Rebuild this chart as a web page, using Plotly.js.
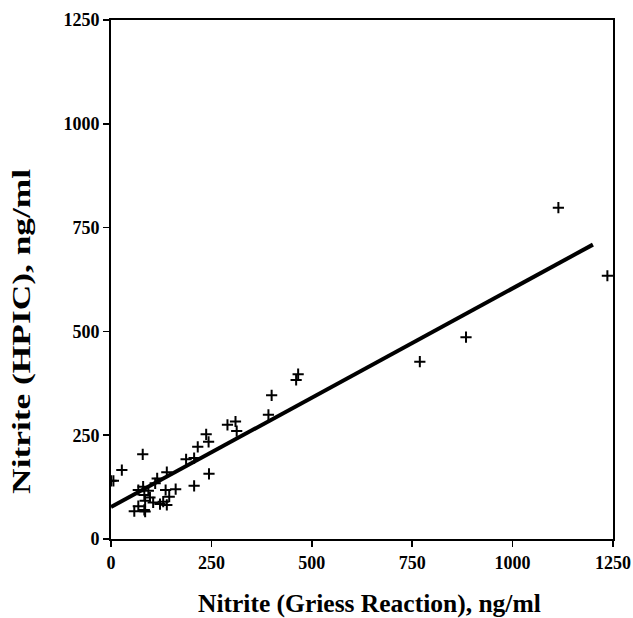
<!DOCTYPE html>
<html>
<head>
<meta charset="utf-8">
<script src="https://cdn.plot.ly/plotly-3.0.1.min.js"></script>
<style>html,body{margin:0;padding:0;background:#fff;}#chart{width:633px;height:618px;}</style>
</head>
<body>
<div id="chart"></div>
<script>
// Griess reaction (x) vs HPIC (y) nitrite, ng/ml
const griess = [466, 461, 400, 392, 290, 310, 313, 237, 243, 216, 187, 207, 244, 207,
  79, 27, 0, 6, 139, 115, 110, 80, 68, 93, 136, 161, 145, 83, 97, 85, 105, 130, 122, 139,
  68, 58, 83, 85, 769, 884, 1114, 1236];
const hpic = [397, 383, 346, 299, 275, 283, 260, 252, 234, 222, 192, 195, 157, 128,
  204, 166, 140, 140, 161, 146, 134, 126, 118, 116, 118, 120, 102, 106, 100, 92, 88, 90, 84, 82,
  79, 67, 70, 66, 427, 486, 798, 634];
const fitX = [0, 1200];
const fitY = [77, 709];
const xTicks = [0, 250, 500, 750, 1000, 1250];
const yTicks = [0, 250, 500, 750, 1000, 1250];
const xTitle = 'Nitrite (Griess Reaction), ng/ml';
const yTitle = 'Nitrite (HPIC), ng/ml';

const font = {family: 'Liberation Serif, Times New Roman, serif', color: '#000'};

Plotly.newPlot('chart', [
  {x: fitX, y: fitY, mode: 'lines', line: {color: '#000', width: 4}, hoverinfo: 'skip'},
  {x: griess, y: hpic, mode: 'markers',
   marker: {symbol: 'cross-thin', size: 8, color: '#000', line: {color: '#000', width: 2}}}
], {
  width: 633, height: 618,
  margin: {l: 111, r: 20, t: 20, b: 79},
  showlegend: false,
  paper_bgcolor: '#fff', plot_bgcolor: '#fff',
  font: Object.assign({size: 18}, font),
  xaxis: {
    range: [0, 1250], tickvals: xTicks, ticktext: xTicks.map(v => '<b>' + v + '</b>'),
    showgrid: false, zeroline: false, showline: true, linecolor: '#000', linewidth: 2,
    mirror: true, ticks: 'outside', ticklen: 6, tickwidth: 1.5, tickcolor: '#000',
    tickfont: Object.assign({size: 18}, font)
  },
  yaxis: {
    range: [0, 1250], tickvals: yTicks, ticktext: yTicks.map(v => '<b>' + v + '</b>'),
    showgrid: false, zeroline: false, showline: true, linecolor: '#000', linewidth: 2,
    mirror: true, ticks: 'outside', ticklen: 6, tickwidth: 1.5, tickcolor: '#000',
    tickfont: Object.assign({size: 18}, font)
  },
  annotations: [
    {text: '<b>' + xTitle + '</b>', xref: 'paper', yref: 'paper', x: 0.514, y: -0.124,
     xanchor: 'center', yanchor: 'middle', showarrow: false, font: Object.assign({size: 25.5}, font)},
    {text: '<b>' + yTitle + '</b>', xref: 'paper', yref: 'paper', x: 0, y: 0.399, xshift: -89,
     xanchor: 'center', yanchor: 'middle', textangle: -90, showarrow: false,
     font: Object.assign({size: 26}, font)}
  ]
}, {displayModeBar: false, staticPlot: true}).then(gd => {
  const texts = gd.querySelectorAll('.annotation-text');
  if (texts.length > 1) {
    texts[1].setAttribute('textLength', '325');
    texts[1].setAttribute('lengthAdjust', 'spacingAndGlyphs');
  }
});
</script>
</body>
</html>
